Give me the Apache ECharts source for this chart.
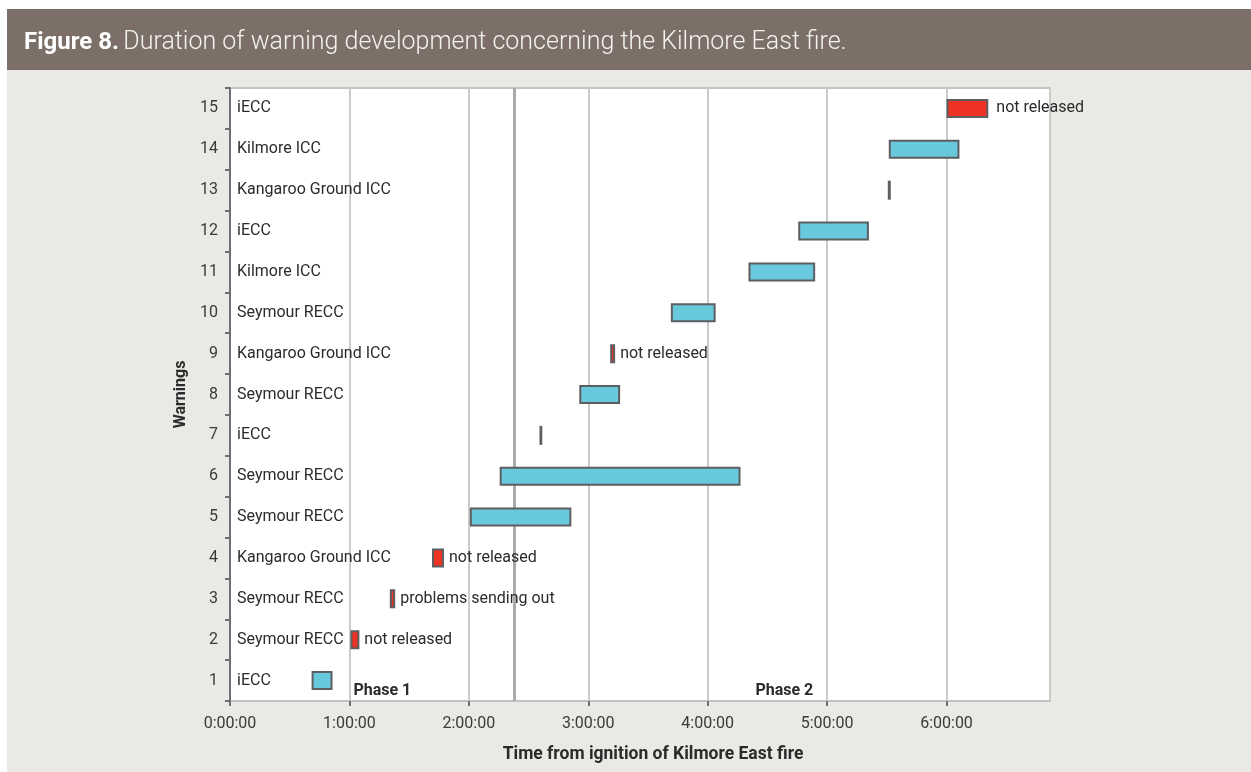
<!DOCTYPE html>
<html>
<head>
<meta charset="utf-8">
<title>Figure 8</title>
<script src="https://cdn.jsdelivr.net/npm/echarts@6/dist/echarts.min.js"></script>
<style>
    html, body { margin: 0; padding: 0; background: #ffffff; }
    #container { position: absolute; left: 7px; top: 9px; width: 1244px; height: 763px; }
</style>
</head>
<body>
<div id="container"></div>
<script>
// warnings 1..15 (bottom to top)
var warningNos = ['1','2','3','4','5','6','7','8','9','10','11','12','13','14','15'];
var warningNames = ['iECC','Seymour RECC','Seymour RECC','Kangaroo Ground ICC','Seymour RECC','Seymour RECC','iECC',
    'Seymour RECC','Kangaroo Ground ICC','Seymour RECC','Kilmore ICC','iECC','Kangaroo Ground ICC','Kilmore ICC','iECC'];
// minutes from ignition
var startMin = [41.5, 61, 80.8, 102, 121, 136, 156, 176, 191.5, 222, 261, 286, 331, 331.5, 360.5];
var endMin   = [51, 64.5, 82.5, 107, 171, 256, 156.4, 195.5, 193, 243.5, 293.5, 320.5, 331.5, 366, 380.5];
var warnState = ['ok','no','no','no','ok','ok','ok','ok','no','ok','ok','ok','ok','ok','no'];
var notes    = ['','not released','problems sending out','not released','','','','','not released','','','','','','not released'];
// phase split and labels
var phaseSplit = 142.6;
var phaseNames = ['Phase 1','Phase 2'];
var phaseAt = [62, 264];
var xMax = 412;

var page = {
    font: 'Roboto, "DejaVu Sans", sans-serif',
    init: function () {
        this.chart = echarts.init(document.getElementById('container'));
        this.generateCharts();
    },
    //bar + note
    renderBar: function (params, api) {
        var row = api.value(0);
        var p1 = api.coord([api.value(1), row]);
        var p2 = api.coord([api.value(2), row]);
        var h = 17;
        var w = Math.max(p2[0] - p1[0], 0.6);
        var i = params.dataIndex;
        var children = [{
            type: 'rect',
            shape: { x: p1[0], y: p1[1] - h / 2, width: w, height: h },
            style: { fill: warnState[i] == 'no' ? '#ee3224' : '#68c9dd', stroke: '#5d5e62', lineWidth: 2 }
        }];
        if (notes[i]) {
            children.push({
                type: 'text',
                style: {
                    x: p1[0] + w + (i == 14 ? 9 : 6), y: p1[1], text: notes[i],
                    verticalAlign: 'middle', align: 'left',
                    font: '16px ' + page.font, fill: '#2b2b2b'
                }
            });
        }
        return { type: 'group', children: children };
    },
    renderPhase: function (params, api) {
        var p = api.coord([api.value(0), 0]);
        return {
            type: 'text',
            style: {
                x: p[0], y: p[1] + 10, text: phaseNames[params.dataIndex],
                verticalAlign: 'middle', align: 'left',
                font: 'bold 16px ' + page.font, fill: '#2b2b2b'
            }
        };
    },
    generateCharts: function () {
        var barData = [], phaseData = [];
        for (var i = 0; i < warningNos.length; i++) {
            barData.push([i, startMin[i], endMin[i]]);
        }
        for (var k = 0; k < phaseAt.length; k++) {
            phaseData.push([phaseAt[k], 0]);
        }
        var option = {
            backgroundColor: '#ebe9e5',
            animation: false,
            textStyle: { fontFamily: this.font },
            graphic: [{
                type: 'rect', left: 0, top: 0,
                shape: { width: 1244, height: 61 },
                style: { fill: '#7b6f67' }
            }],
            title: {
                left: 17, top: 21, padding: 0,
                text: '{b|Figure 8.} {n|Duration of warning development concerning the Kilmore East fire.}',
                textStyle: {
                    rich: {
                        b: { fontSize: 24, fontWeight: 'bold', color: '#ffffff', fontFamily: this.font },
                        n: { fontSize: 25, fontWeight: 300, color: '#f4f2ef', fontFamily: this.font }
                    }
                }
            },
            grid: {
                left: 223, top: 79, right: 201, bottom: 71,
                show: true, backgroundColor: '#ffffff', borderColor: '#c3c3c7', borderWidth: 2
            },
            xAxis: {
                type: 'value', min: 0, max: xMax, interval: 60,
                name: 'Time from ignition of Kilmore East fire',
                nameLocation: 'middle', nameGap: 45,
                nameTextStyle: { fontSize: 17.5, fontWeight: 'bold', color: '#2b2b2b', padding: [0, 0, 0, 26] },
                axisLine: { lineStyle: { color: '#6d6e71', width: 2 } },
                axisTick: { show: true, length: 5, lineStyle: { color: '#6d6e71', width: 2 } },
                axisLabel: {
                    fontSize: 16, color: '#3a3a3a', margin: 15,
                    showMaxLabel: false,
                    formatter: function (v) { return (v / 60) + ':00:00'; }
                },
                splitLine: { show: true, lineStyle: { color: '#cbcbcb', width: 2 } }
            },
            yAxis: [{
                type: 'category', data: warningNos,
                name: 'Warnings', nameLocation: 'middle', nameGap: 35, nameRotate: 90,
                nameTextStyle: { fontSize: 16, fontWeight: 'bold', color: '#2b2b2b' },
                axisLine: { lineStyle: { color: '#6d6e71', width: 2 } },
                axisTick: { show: true, length: 5, lineStyle: { color: '#6d6e71', width: 2 } },
                axisLabel: { fontSize: 16, color: '#3a3a3a', margin: 12 },
                splitLine: { show: false }
            }, {
                type: 'category', data: warningNames, position: 'left',
                axisLine: { show: false }, axisTick: { show: false },
                axisLabel: { inside: true, fontSize: 16, color: '#2b2b2b', margin: 7 },
                splitLine: { show: false }
            }],
            series: [{
                type: 'custom',
                renderItem: this.renderBar,
                encode: { x: [1, 2], y: 0 },
                data: barData,
                z: 5,
                markLine: {
                    silent: true, symbol: 'none',
                    label: { show: false },
                    lineStyle: { color: '#a9aaad', width: 3, type: 'solid' },
                    data: [{ xAxis: phaseSplit }]
                }
            }, {
                type: 'custom',
                renderItem: this.renderPhase,
                encode: { x: 0, y: 1 },
                data: phaseData,
                z: 6
            }]
        };
        this.chart.setOption(option);
    }
};

page.init();
</script>
</body>
</html>
